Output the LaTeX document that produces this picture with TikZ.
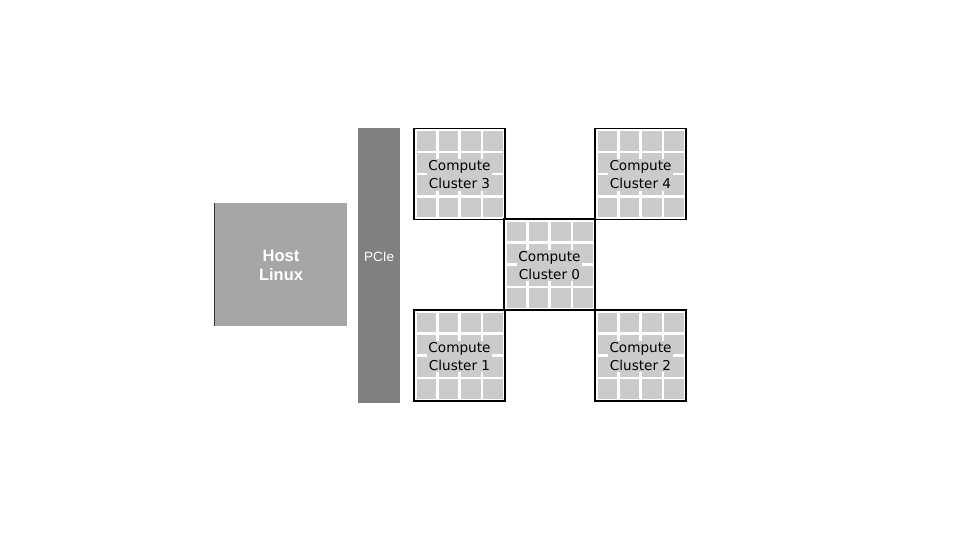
\documentclass[tikz,border=0pt]{standalone}
\usepackage{fontspec}
\usetikzlibrary{calc}
\setmainfont{DejaVu Sans}
\newfontfamily\arialfont{Liberation Sans}
\definecolor{cellgray}{HTML}{CBCBCB}
\definecolor{hostgray}{HTML}{A6A6A6}
\definecolor{pciegray}{HTML}{808080}
\tikzset{
  clusterbox/.style={draw=black, line width=1.5pt, fill=white, minimum width=91pt, minimum height=91pt, inner sep=0pt, outer sep=0pt},
  cell/.style={fill=cellgray, draw=none},
  clabel/.style={fill=cellgray, inner sep=1.5pt, align=center, font=\fontsize{13.6}{18}\selectfont, text=black},
  hostbox/.style={fill=hostgray, draw=none, minimum width=132pt, minimum height=123pt, inner sep=0pt},
  pciebox/.style={fill=pciegray, draw=none, minimum width=42pt, minimum height=275pt, inner sep=0pt},
}
\begin{document}
\begin{tikzpicture}[x=1pt,y=-1pt]
\useasboundingbox (0,0) rectangle (960,540);
% Host
\node[hostbox] (host) at (281,264.5) {};
\draw[black!80, line width=1pt] (host.north west) -- (host.south west);
\node[align=center, text=white, font=\arialfont\bfseries\fontsize{16.5}{19}\selectfont] (hostlabel) at ($(host.center)+(0,1)$) {Host\\Linux};
% PCIe
\node[pciebox] (pcie) at (379,265.5) {};
\node[text=white, font=\arialfont\fontsize{13.5}{15}\selectfont] (pcielabel) at (379,256.5) {PCIe};
% clusters
\foreach \name/\cx/\cy/\num in {c3/459.5/174/3, c4/640.5/174/4, c0/549.5/264.5/0, c1/459.5/355.5/1, c2/640.5/355.5/2}{
  \node[clusterbox] (\name) at (\cx,\cy) {};
  \foreach \i in {0,1,2,3}{
    \foreach \j in {0,1,2,3}{
      \fill[cellgray] ($(\name.north west)+(2.6+\i*22.2,2.6+\j*22.2)$) rectangle ++(19.6,19.6);
    }
  }
  \draw[black, line width=1.5pt] (\name.north west) rectangle (\name.south east);
  \node[clabel] (\name label) at ($(\name.center)+(0,1)$) {Compute\\Cluster \num};
}
\end{tikzpicture}
\end{document}
